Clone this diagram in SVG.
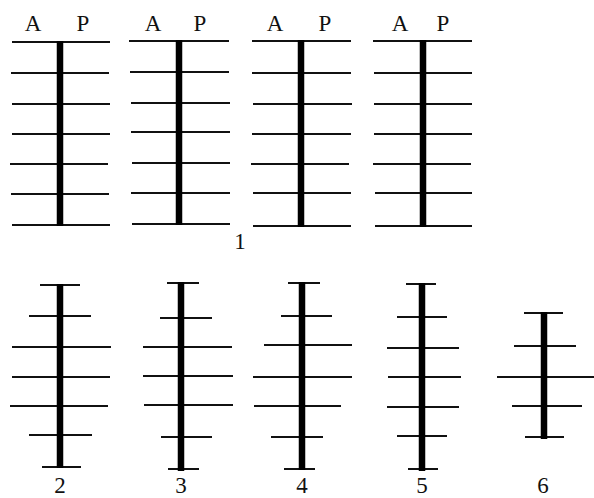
<svg xmlns="http://www.w3.org/2000/svg" width="594" height="498" viewBox="0 0 594 498">
<style>
.r{stroke:#111;stroke-width:2;fill:none}
.s{stroke:#000;stroke-width:6.5;fill:none}
text{font-family:"Liberation Serif","Times New Roman",serif;font-size:23px;fill:#111;text-anchor:middle}
</style>
<rect width="594" height="498" fill="#fff"/>
<g id="fig1a">
<path class="r" d="M12 42H110M11 73H109M12 104H110M12 134H110M10 164H108M11 194H109M12 225H110"/>
<path class="s" d="M60 41V226"/>
<text x="33" y="31">A</text><text x="83" y="31">P</text>
</g>
<g id="fig1b">
<path class="r" d="M129 41H229M130 72H229M131 103H230M131 132H230M132 163H230M131 193H230M132 224H230"/>
<path class="s" d="M179 40V225"/>
<text x="153" y="31">A</text><text x="200" y="31">P</text>
</g>
<g id="fig1c">
<path class="r" d="M252 41H351M252 73H351M253 104H352M252 134H351M251 164H349M253 193H351M253 226H351"/>
<path class="s" d="M301 40V227"/>
<text x="275" y="31">A</text><text x="325" y="31">P</text>
</g>
<g id="fig1d">
<path class="r" d="M373 41H472M374 73H472M374 104H472M374 134H472M373 164H471M375 193H472M375 226H472"/>
<path class="s" d="M423 40V227"/>
<text x="400" y="31">A</text><text x="443" y="31">P</text>
</g>
<text id="label1" x="240" y="249">1</text>
<g id="fig2">
<path class="r" d="M40 285H80M29 316H91M12 347H111M12 377H110M10 406H108M29 435H92M42 467H81"/>
<path class="s" d="M60 284V468"/>
<text x="60" y="493">2</text>
</g>
<g id="fig3">
<path class="r" d="M167 283H199M160 318H212M143 347H232M143 376H233M144 405H233M161 437H212M168 469H199"/>
<path class="s" d="M181 282V471"/>
<text x="181" y="493">3</text>
</g>
<g id="fig4">
<path class="r" d="M288 283H320M281 316H332M264 345H352M253 377H352M254 406H341M271 437H323M284 469H315"/>
<path class="s" d="M302 282V470"/>
<text x="302" y="493">4</text>
</g>
<g id="fig5">
<path class="r" d="M406 284H436M397 317H447M387 348H459M388 377H461M387 407H459M397 436H447M408 469H438"/>
<path class="s" d="M422 283V471"/>
<text x="422" y="493">5</text>
</g>
<g id="fig6">
<path class="r" d="M524 313H563M514 346H576M497 377H594M512 406H582M525 437H564"/>
<path class="s" d="M544 312V439"/>
<text x="543" y="493">6</text>
</g>
</svg>
